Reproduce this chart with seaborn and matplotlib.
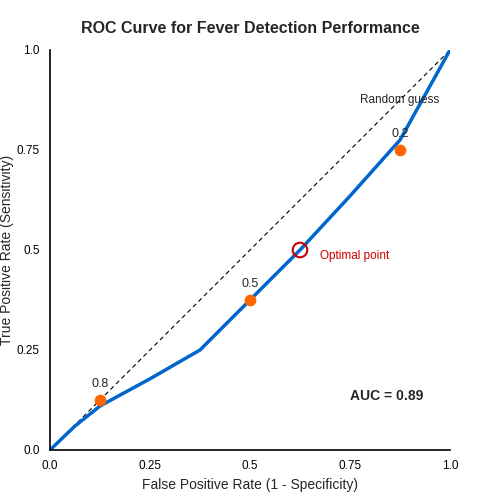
import matplotlib
matplotlib.use("Agg")
import matplotlib.pyplot as plt
import seaborn as sns
import pandas as pd

fpr = [0, 0.0625, 0.125, 0.25, 0.375, 0.5, 0.625, 0.75, 0.875, 1.0]
tpr = [0, 0.06, 0.11, 0.178, 0.25, 0.375, 0.5, 0.635, 0.775, 1.0]
thr_fpr = [0.125, 0.5, 0.875]
thr_tpr = [0.125, 0.375, 0.75]
thr_labels = ["0.8", "0.5", "0.2"]
opt = (0.625, 0.5)
ticks = [0, 0.25, 0.5, 0.75, 1.0]
tick_labels = ["0.0", "0.25", "0.5", "0.75", "1.0"]

sns.set_style("white")
plt.rcParams['font.family'] = ['Liberation Sans', 'DejaVu Sans']
fig, ax = plt.subplots(figsize=(5, 5), dpi=100)
fig.subplots_adjust(left=0.1, right=0.9, bottom=0.1, top=0.9)

ax.plot([0, 1], [0, 1], ls=(0, (4, 3)), color="black", lw=0.8)
sns.lineplot(data=pd.DataFrame({"x": fpr, "y": tpr}), x="x", y="y", ax=ax,
             color="#0066cc", lw=2.5, sort=False)
ax.scatter(thr_fpr, thr_tpr, color="#ff6600", s=55, zorder=3)
for x, y, t in zip(thr_fpr, thr_tpr, thr_labels):
    ax.text(x, y + 0.025, t, ha="center", va="bottom", fontsize=9)
ax.scatter([opt[0]], [opt[1]], s=110, facecolors="none", edgecolors="#cc0000", lw=1.5, zorder=4)
ax.text(0.675, 0.485, "Optimal point", color="#cc0000", fontsize=8.5, va="center")
ax.text(0.775, 0.875, "Random guess", fontsize=8.5, va="center")
ax.text(0.75, 0.135, "AUC = 0.89", fontsize=10, fontweight="bold", va="center")

ax.set_xlim(0, 1); ax.set_ylim(0, 1)
ax.set_xticks(ticks); ax.set_xticklabels(tick_labels)
ax.set_yticks(ticks); ax.set_yticklabels(tick_labels)
ax.tick_params(direction="inout", length=8, width=1.2, labelsize=8.5, colors="black")
for s in ["top", "right"]:
    ax.spines[s].set_visible(False)
for s in ["left", "bottom"]:
    ax.spines[s].set_color("black"); ax.spines[s].set_linewidth(1.2)
ax.set_xlabel("False Positive Rate (1 - Specificity)", fontsize=10)
ax.set_ylabel("True Positive Rate (Sensitivity)", fontsize=10, labelpad=2)
ax.set_title("ROC Curve for Fever Detection Performance", fontsize=11.5, fontweight="bold", pad=12)
fig.savefig("out.png", dpi=100, facecolor="white")
